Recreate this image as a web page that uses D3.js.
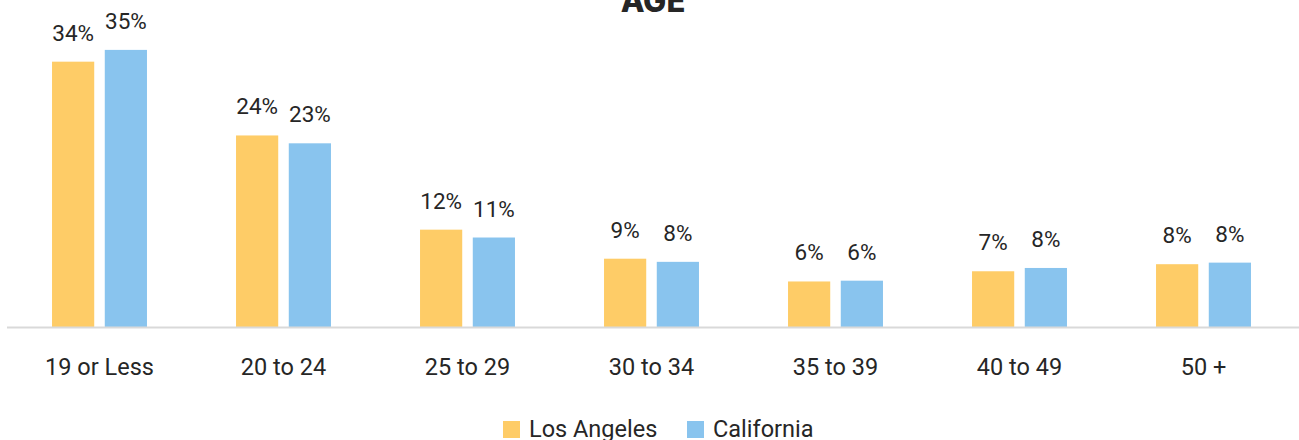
<!DOCTYPE html>
<html>
<head>
<meta charset="utf-8">
<script src="https://cdn.jsdelivr.net/npm/d3@7"></script>
<style>
  body { margin: 0; background: #fff; }
  text { font-family: Roboto, "Open Sans", sans-serif; fill: #262626; }
</style>
</head>
<body>
<div id="chart"></div>
<script>
var categories = ["19 or Less", "20 to 24", "25 to 29", "30 to 34", "35 to 39", "40 to 49", "50 +"];
var seriesNames = ["Los Angeles", "California"];
var losAngeles = [33.8, 24.4, 12.4, 8.7, 5.8, 7.1, 8.0];
var california = [35.3, 23.4, 11.4, 8.3, 5.9, 7.52, 8.2];
var colors = ["#fecc67", "#89c4ee"];

var width = 1299, height = 440;
var baseY = 327;

var svg = d3.select("#chart").append("svg")
  .attr("width", width)
  .attr("height", height);

// title, partly cut off at the top like the original
svg.append("text")
  .attr("x", 653).attr("y", 12)
  .attr("text-anchor", "middle")
  .style("font-family", "Inter, 'DejaVu Sans', sans-serif")
  .style("font-weight", 800)
  .style("font-size", "31px")
  .text("AGE");

var x0 = d3.scaleBand()
  .domain(categories)
  .range([7.5, 1295.5])
  .paddingInner(0.484)
  .paddingOuter(0.242);

var x1 = d3.scaleBand()
  .domain(seriesNames)
  .range([0, x0.bandwidth()])
  .paddingInner(0.2);

var y = d3.scaleLinear()
  .domain([0, 1])
  .range([baseY, baseY - 7.85]);

var rows = categories.map(function(c, i) {
  return { cat: c, vals: [losAngeles[i], california[i]] };
});

var group = svg.selectAll(".grp")
  .data(rows)
  .enter().append("g")
    .attr("class", "grp")
    .attr("transform", function(d) { return "translate(" + x0(d.cat) + ",0)"; });

var bars = group.selectAll("g.bar")
  .data(function(d) { return d.vals.map(function(v, j) { return { name: seriesNames[j], v: v, j: j }; }); })
  .enter().append("g").attr("class", "bar");

bars.append("rect")
  .attr("x", function(d) { return x1(d.name); })
  .attr("y", function(d) { return y(d.v); })
  .attr("width", x1.bandwidth())
  .attr("height", function(d) { return baseY - y(d.v); })
  .attr("fill", function(d) { return colors[d.j]; });

bars.append("text")
  .attr("x", function(d) { return x1(d.name) + x1.bandwidth() / 2; })
  .attr("y", function(d) { return y(d.v) - 21; })
  .attr("text-anchor", "middle")
  .style("font-size", "22.5px")
  .text(function(d) { return Math.round(d.v) + "%"; });

// baseline
svg.append("line")
  .attr("x1", 7).attr("x2", width)
  .attr("y1", baseY + 0.5).attr("y2", baseY + 0.5)
  .attr("stroke", "#d9d9d9")
  .attr("stroke-width", 2);

// category labels
var xAxis = svg.append("g")
  .attr("transform", "translate(0," + baseY + ")")
  .call(d3.axisBottom(x0).tickSize(0).tickPadding(31));
xAxis.select(".domain").remove();
xAxis.selectAll("text")
  .attr("fill", "#262626")
  .style("font-family", "Roboto, sans-serif")
  .style("font-size", "23.5px");

// legend
var legend = svg.append("g").attr("transform", "translate(503,421)");
var lx = [0, 184];
seriesNames.forEach(function(n, i) {
  var g = legend.append("g").attr("transform", "translate(" + lx[i] + ",0)");
  g.append("rect").attr("width", 17).attr("height", 17).attr("fill", colors[i]);
  g.append("text").attr("x", 26).attr("y", 16)
    .style("font-size", "23.5px")
    .text(n);
});
</script>
</body>
</html>
